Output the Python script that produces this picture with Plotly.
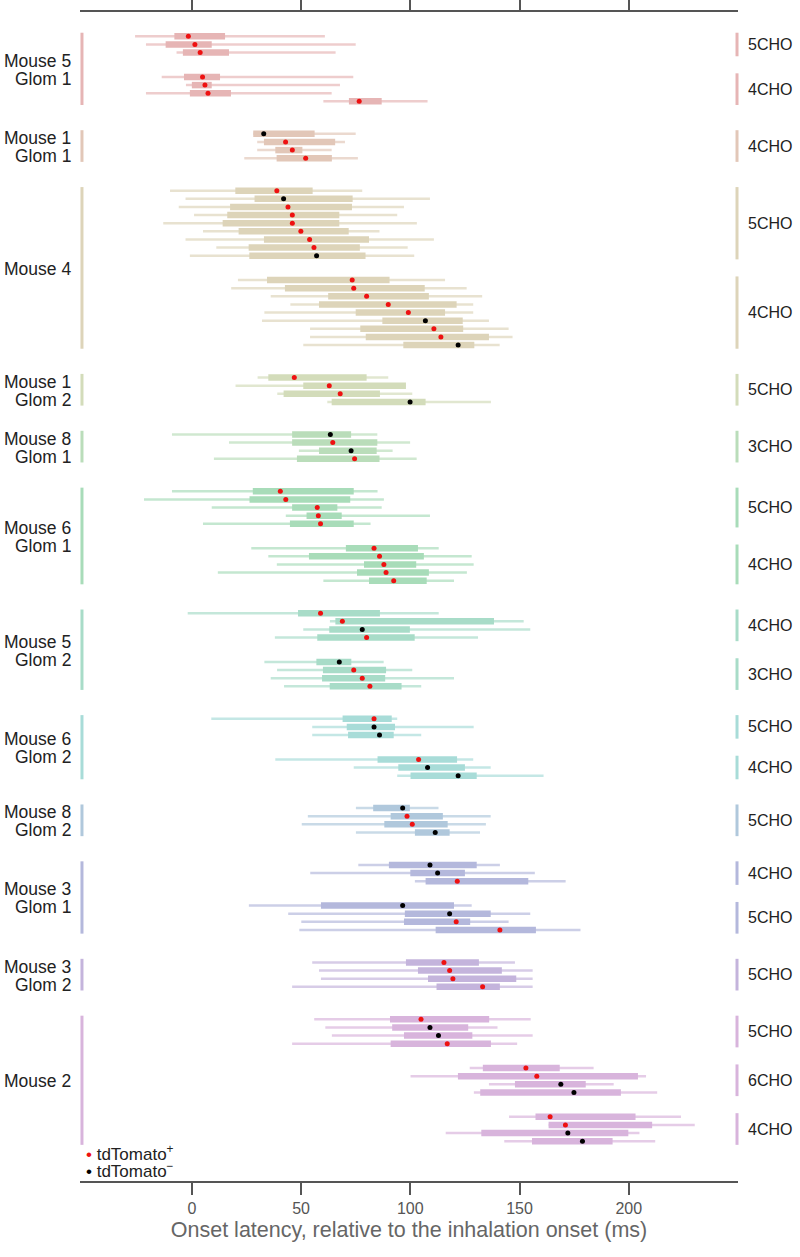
import plotly.graph_objects as go

# ---- data: each row = (whisker low, box low, median, box high, whisker high, tdTomato+ (1) / - (0)) ----
M5G1_5CHO = [(-26.0, -8.0, -1.6, 15.2, 60.9, 1), (-21.0, -12.0, 1.4, 9.1, 75.0, 1), (-7.0, -4.1, 3.8, 17.0, 65.8, 1)]
M5G1_4CHO = [(-13.8, -3.6, 4.9, 12.9, 73.9, 1), (-2.7, 0.0, 6.0, 9.1, 67.8, 1), (-21.0, -0.9, 7.4, 17.9, 64.0, 1),
             (60.2, 71.9, 76.6, 86.9, 107.9, 1)]
M1G1_4CHO = [(28.1, 28.1, 32.9, 56.2, 75.0, 0), (29.9, 33.0, 42.9, 65.6, 70.1, 1), (29.9, 38.2, 46.0, 50.6, 64.0, 1),
             (24.0, 38.8, 52.1, 64.1, 76.0, 1)]
M4_5CHO = [(-10.0, 19.9, 38.9, 55.3, 78.0, 1), (-2.9, 28.7, 42.0, 73.6, 109.0, 0), (-6.0, 17.5, 44.0, 73.3, 97.1, 1),
           (1.0, 16.2, 46.0, 67.5, 94.0, 1), (-13.1, 14.1, 46.0, 67.5, 103.0, 1), (5.1, 21.4, 49.9, 71.8, 85.9, 1),
           (-2.9, 33.0, 53.9, 81.1, 110.8, 1), (11.2, 26.0, 55.9, 76.9, 98.8, 1), (-0.9, 26.3, 57.1, 79.5, 101.8, 0)]
M4_4CHO = [(21.1, 34.4, 73.4, 90.5, 115.9, 1), (18.0, 42.6, 74.1, 106.6, 125.8, 1), (36.1, 62.4, 80.0, 108.5, 132.9, 1),
           (45.1, 58.2, 89.9, 121.2, 128.8, 1), (33.2, 75.0, 99.1, 115.9, 128.8, 1), (32.1, 87.2, 106.9, 124.0, 136.0, 0),
           (54.1, 77.1, 110.8, 124.2, 145.0, 1), (54.1, 79.6, 114.0, 136.0, 146.8, 1), (51.0, 96.8, 121.9, 129.3, 140.9, 0)]
M1G2_5CHO = [(30.1, 35.0, 46.9, 80.0, 89.9, 1), (20.0, 51.0, 62.9, 98.0, 98.0, 1), (39.1, 42.0, 67.9, 86.1, 100.9, 1),
             (62.0, 64.0, 99.9, 107.0, 136.9, 0)]
M8G1_3CHO = [(-9.1, 45.9, 63.4, 72.9, 84.9, 0), (17.0, 45.9, 64.5, 84.9, 99.9, 1), (49.0, 58.2, 72.9, 84.6, 91.9, 0),
             (10.1, 48.1, 74.5, 85.9, 102.9, 1)]
M6G1_5CHO = [(-9.1, 27.9, 40.5, 74.1, 85.0, 1), (-21.9, 26.4, 43.0, 72.5, 87.9, 1), (9.1, 45.9, 57.4, 66.6, 86.9, 1),
             (43.0, 52.5, 57.9, 68.6, 109.0, 1), (5.1, 44.9, 58.9, 74.1, 81.8, 1)]
M6G1_4CHO = [(27.2, 70.5, 83.4, 103.5, 113.0, 1), (35.0, 53.6, 85.9, 106.2, 128.1, 1), (38.9, 78.8, 87.9, 102.7, 129.0, 1),
             (11.9, 75.6, 88.9, 108.5, 125.9, 1), (60.2, 81.1, 92.4, 107.5, 120.0, 1)]
M5G2_4CHO = [(-1.9, 48.6, 58.9, 86.1, 113.0, 1), (63.2, 65.7, 68.9, 138.3, 151.9, 1), (51.0, 62.9, 78.0, 99.8, 154.9, 0),
             (38.0, 57.4, 80.0, 102.0, 131.0, 1)]
M5G2_3CHO = [(33.2, 57.0, 67.5, 73.0, 87.8, 0), (39.0, 60.0, 74.1, 88.9, 100.9, 1), (36.1, 59.6, 78.0, 88.5, 120.0, 1),
             (42.2, 63.1, 81.5, 96.0, 105.0, 1)]
M6G2_5CHO = [(8.9, 69.0, 83.4, 91.5, 94.0, 1), (55.1, 70.9, 83.4, 93.0, 129.0, 0), (55.1, 71.5, 85.9, 92.4, 105.0, 0)]
M6G2_4CHO = [(38.2, 85.0, 103.8, 121.4, 128.8, 1), (74.1, 94.5, 107.9, 125.0, 136.8, 0), (94.0, 100.1, 121.9, 130.4, 161.0, 0)]
M8G2_5CHO = [(75.1, 83.0, 96.5, 99.8, 112.9, 0), (53.1, 91.0, 98.5, 114.9, 136.8, 1), (50.3, 88.1, 100.9, 117.1, 134.6, 1),
             (75.1, 102.1, 111.4, 118.0, 131.9, 0)]
M3G1_4CHO = [(76.2, 90.2, 109.0, 130.4, 141.0, 0), (54.2, 100.0, 112.5, 125.0, 157.0, 0), (102.1, 107.0, 121.5, 154.0, 171.1, 1)]
M3G1_5CHO = [(26.1, 59.1, 96.5, 120.0, 128.1, 0), (44.1, 97.5, 118.0, 136.8, 154.9, 0), (50.1, 97.1, 121.0, 127.4, 145.0, 1),
             (49.2, 111.6, 141.0, 157.5, 177.9, 1)]
M3G2_5CHO = [(55.1, 98.0, 115.4, 131.4, 147.9, 1), (58.2, 103.5, 118.0, 141.9, 156.0, 1), (59.1, 108.1, 119.5, 148.5, 156.0, 1),
             (45.9, 112.0, 133.1, 141.0, 156.0, 1)]
M2_5CHO = [(56.0, 90.7, 104.9, 136.1, 155.1, 1), (61.1, 91.7, 109.0, 126.5, 139.9, 0), (64.1, 97.1, 112.9, 128.4, 156.0, 0),
           (45.9, 91.0, 116.9, 136.9, 148.9, 1)]
M2_6CHO = [(127.2, 133.2, 152.9, 168.4, 183.9, 1), (100.1, 121.8, 157.9, 204.2, 207.9, 1), (136.0, 147.9, 168.9, 180.3, 193.1, 0),
           (129.1, 132.0, 174.9, 196.4, 213.0, 0)]
M2_4CHO = [(145.2, 157.3, 164.0, 203.1, 223.9, 1), (163.3, 163.3, 171.0, 210.7, 230.2, 1), (116.2, 132.5, 172.1, 199.8, 204.9, 0),
           (143.0, 155.7, 178.8, 192.6, 212.1, 0)]

group_labels = [["Mouse 5", "Glom 1"], ["Mouse 1", "Glom 1"], ["Mouse 4"], ["Mouse 1", "Glom 2"], ["Mouse 8", "Glom 1"],
                ["Mouse 6", "Glom 1"], ["Mouse 5", "Glom 2"], ["Mouse 6", "Glom 2"], ["Mouse 8", "Glom 2"],
                ["Mouse 3", "Glom 1"], ["Mouse 3", "Glom 2"], ["Mouse 2"]]
group_blocks = [
    [("5CHO", M5G1_5CHO), ("4CHO", M5G1_4CHO)],
    [("4CHO", M1G1_4CHO)],
    [("5CHO", M4_5CHO), ("4CHO", M4_4CHO)],
    [("5CHO", M1G2_5CHO)],
    [("3CHO", M8G1_3CHO)],
    [("5CHO", M6G1_5CHO), ("4CHO", M6G1_4CHO)],
    [("4CHO", M5G2_4CHO), ("3CHO", M5G2_3CHO)],
    [("5CHO", M6G2_5CHO), ("4CHO", M6G2_4CHO)],
    [("5CHO", M8G2_5CHO)],
    [("4CHO", M3G1_4CHO), ("5CHO", M3G1_5CHO)],
    [("5CHO", M3G2_5CHO)],
    [("5CHO", M2_5CHO), ("6CHO", M2_6CHO), ("4CHO", M2_4CHO)],
]
group_colors = [(230, 181, 181), (226, 199, 184), (221, 212, 185), (211, 220, 186), (186, 221, 186), (168, 220, 185),
                (168, 220, 200), (168, 220, 216), (176, 200, 220), (180, 184, 220), (196, 180, 220), (216, 180, 220)]
x_ticks = [0, 50, 100, 150, 200]
x_title = "Onset latency, relative to the inhalation onset (ms)"
legend_labels = ["tdTomato<sup>+</sup>", "tdTomato<sup>−</sup>"]

# ---- build figure ----
fig = go.Figure()
shapes, annotations = [], []
slot = 0
red_x, red_y, blk_x, blk_y = [], [], [], []
FONT = "Liberation Sans, Arial, sans-serif"

for gi, (glines, blocks, col) in enumerate(zip(group_labels, group_blocks, group_colors)):
    if gi > 0:
        slot += 4
    box_c = "rgb(%d,%d,%d)" % col
    wh_c = "rgba(%d,%d,%d,0.68)" % col
    wx, wy, bx, by = [], [], [], []
    g_first = slot
    for bi, (odor, rows) in enumerate(blocks):
        if bi > 0:
            slot += 3
        b_first = slot
        for j, r in enumerate(rows):
            lo, q1, med, q3, hi, td = r
            wx += [lo, hi, None]; wy += [slot, slot, None]
            bx += [q1, q3, None]; by += [slot, slot, None]
            if td:
                red_x.append(med); red_y.append(slot)
            else:
                blk_x.append(med); blk_y.append(slot)
            if j < len(rows) - 1:
                slot += 1
        b_last = slot
        shapes.append(dict(type="line", xref="paper", yref="y", x0=0.9985, x1=0.9985,
                           y0=b_first - 0.45, y1=b_last + 0.45, line=dict(color=box_c, width=3)))
        annotations.append(dict(xref="paper", yref="y", x=1, y=(b_first + b_last) / 2, xanchor="left",
                                xshift=8, text=odor, showarrow=False,
                                font=dict(family=FONT, size=16, color="#222")))
    g_last = slot
    fig.add_trace(go.Scatter(x=wx, y=wy, mode="lines", line=dict(color=wh_c, width=2.5), hoverinfo="skip",
                             showlegend=False))
    fig.add_trace(go.Scatter(x=bx, y=by, mode="lines", line=dict(color=box_c, width=6.5), hoverinfo="skip",
                             showlegend=False))
    shapes.append(dict(type="line", xref="paper", yref="y", x0=0.003, x1=0.003,
                       y0=g_first - 0.45, y1=g_last + 0.45, line=dict(color=box_c, width=3)))
    n = len(glines)
    for li, txt in enumerate(glines):
        annotations.append(dict(xref="paper", yref="y", x=0, y=(g_first + g_last) / 2, xanchor="right",
                                yanchor="middle", xshift=-7, yshift=9 * (n - 1) - 18 * li - 1,
                                text=txt, showarrow=False,
                                font=dict(family=FONT, size=17.5, color="#222")))

fig.add_trace(go.Scatter(x=red_x, y=red_y, mode="markers", marker=dict(color="#ee1111", size=5),
                         showlegend=False, hoverinfo="x"))
fig.add_trace(go.Scatter(x=blk_x, y=blk_y, mode="markers", marker=dict(color="#000000", size=5),
                         showlegend=False, hoverinfo="x"))

# legend drawn as annotations in the lower-left corner
for i, (lab, c) in enumerate(zip(legend_labels, ["#ee1111", "#000000"])):
    annotations.append(dict(xref="paper", yref="paper", x=0, y=0.024 - i * 0.0145, xanchor="left", yanchor="middle",
                            xshift=4, showarrow=False,
                            text="<span style='color:%s'>•</span> %s" % (c, lab),
                            font=dict(family=FONT, size=17, color="#222")))

last_slot = slot
fig.update_layout(
    width=800, height=1257,
    margin=dict(l=80, r=62, t=12, b=76, autoexpand=False),
    plot_bgcolor="white", paper_bgcolor="white",
    shapes=shapes, annotations=annotations,
    xaxis=dict(range=[-51.2, 250], tickvals=x_ticks, ticks="outside", ticklen=12, tickwidth=1.5,
               tickcolor="#555", showline=True, linecolor="#555", linewidth=1.5, mirror="ticks",
               showgrid=False, zeroline=False, automargin=False,
               tickfont=dict(family=FONT, size=16, color="#555"),
               title=dict(text=x_title, font=dict(family=FONT, size=21.5, color="#666"), standoff=6)),
    yaxis=dict(range=[last_slot + 4.9, -3.0], visible=False, showgrid=False, zeroline=False, automargin=False),
)

fig.write_html("out.html", config={"displayModeBar": False},
               post_script="document.body.style.margin='0';")
